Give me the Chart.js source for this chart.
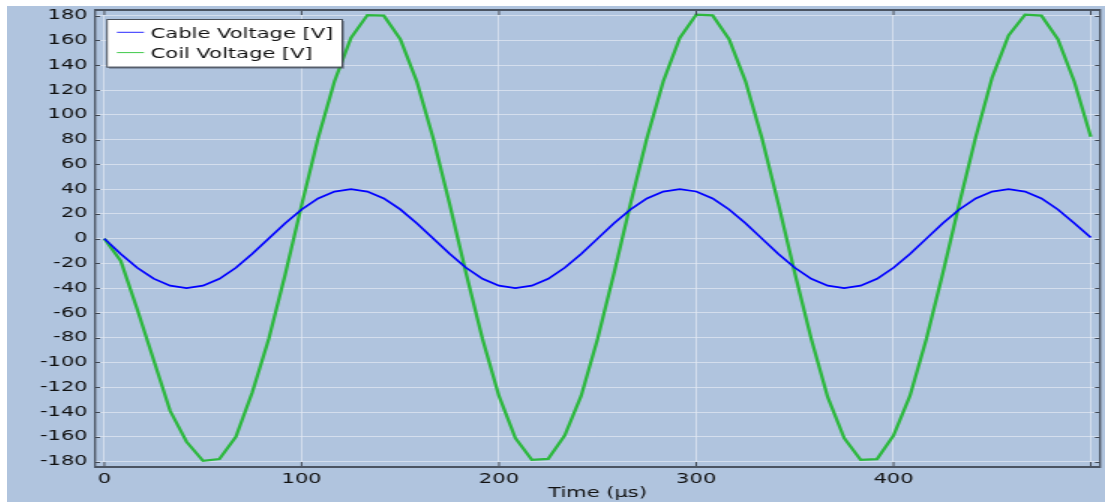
<!DOCTYPE html>
<html>
<head>
<meta charset="utf-8">
<script src="https://cdn.jsdelivr.net/npm/chart.js@4.4.1/dist/chart.umd.min.js"></script>
<style>
  html, body { margin: 0; padding: 0; background: #ffffff; width: 1105px; height: 502px; overflow: hidden; }
  /* the plot is drawn narrow and widened horizontally */
  #wrap { position: absolute; left: 7px; top: 6px; width: 732px; height: 496px;
          transform: scaleX(1.5); transform-origin: 0 0; }
  canvas { display: block; }
</style>
</head>
<body>
<div id="wrap"><canvas id="chart" width="732" height="496" style="width:732px;height:496px"></canvas></div>
<script>
// Sample times in microseconds
const times = [0, 8.33, 16.67, 25, 33.33, 41.67, 50, 58.33, 66.67, 75,
  83.33, 91.67, 100, 108.33, 116.67, 125, 133.33, 141.67, 150, 158.33,
  166.67, 175, 183.33, 191.67, 200, 208.33, 216.67, 225, 233.33, 241.67,
  250, 258.33, 266.67, 275, 283.33, 291.67, 300, 308.33, 316.67, 325,
  333.33, 341.67, 350, 358.33, 366.67, 375, 383.33, 391.67, 400, 408.33,
  416.67, 425, 433.33, 441.67, 450, 458.33, 466.67, 475, 483.33, 491.67, 500];

// Cable voltage [V]
const cableVoltage = [0, -12.4, -23.5, -32.3, -38.0, -40.0, -38.0, -32.4, -23.5, -12.3,
  0.1, 12.4, 23.5, 32.4, 38.0, 40.0, 38.0, 32.4, 23.6, 12.4,
  0.1, -12.3, -23.5, -32.4, -38.0, -40.0, -38.0, -32.4, -23.5, -12.4,
  0, 12.4, 23.5, 32.4, 38.0, 40.0, 38.1, 32.4, 23.5, 12.4,
  0, -12.4, -23.5, -32.4, -38.0, -40.0, -38.0, -32.4, -23.5, -12.4,
  0, 12.4, 23.5, 32.4, 38.0, 40.0, 38.0, 32.4, 23.5, 12.4, 0.9];

// Coil voltage [V]
const coilVoltage = [0, -18, -57, -98, -139, -164, -179.4, -178, -160, -124,
  -81, -29, 27, 81, 127, 162, 180.5, 180, 161, 127,
  81, 28, -28, -81, -127, -161, -178.6, -177.8, -159, -127,
  -81, -28, 28, 81, 127, 162, 180.8, 180.2, 161, 127,
  81, 28, -28, -81, -128, -161, -178.6, -178, -159, -127,
  -81, -28, 28, 82, 130, 164, 180.8, 180, 161, 126.7, 82.3];

const seriesNames = ['Cable Voltage [V]', 'Coil Voltage [V]'];
const xTickValues = [0, 100, 200, 300, 400, 500];
const xTickLabels = ['0', '100', '200', '300', '400', ''];
const yTickValues = [-180, -160, -140, -120, -100, -80, -60, -40, -20, 0,
  20, 40, 60, 80, 100, 120, 140, 160, 180];
const yTickLabels = ['-180', '-160', '-140', '-120', '-100', '-80', '-60', '-40', '-20', '0',
  '20', '40', '60', '80', '100', '120', '140', '160', '180'];
const xTitle = 'Time (µs)';

const FONT = 'DejaVu Sans';
const SX = 1.5; // horizontal widening applied to the canvas

const background = {
  id: 'background',
  beforeDraw(chart) {
    const ctx = chart.ctx;
    ctx.save();
    ctx.fillStyle = '#b0c4de';
    ctx.fillRect(0, 0, chart.width, chart.height);
    ctx.restore();
  }
};

// Boxed legend in the upper-left corner of the plot
const boxLegend = {
  id: 'boxLegend',
  afterDatasetsDraw(chart) {
    const ctx = chart.ctx;
    const bx = 66.7, by = 13, bw = 156.8, bh = 47.7;
    ctx.save();
    ctx.fillStyle = 'rgba(70,80,95,0.55)';
    ctx.fillRect(bx + 2 / SX, by + 2, bw, bh);
    ctx.fillStyle = '#ffffff';
    ctx.fillRect(bx, by, bw, bh);
    ctx.strokeStyle = '#4a4f58';
    ctx.lineWidth = 1;
    ctx.strokeRect(bx, by + 0.5, bw, bh);
    const rows = [32, 52.3];
    const lineCols = ['#2a2aff', '#3fc94a'];
    chart.data.datasets.forEach((ds, i) => {
      const yy = rows[i];
      ctx.strokeStyle = lineCols[i];
      ctx.lineWidth = 1;
      ctx.beginPath();
      ctx.moveTo(73.3, yy - 5.7);
      ctx.lineTo(91.3, yy - 5.7);
      ctx.stroke();
      ctx.fillStyle = '#111111';
      ctx.font = '14px "' + FONT + '"';
      ctx.textBaseline = 'alphabetic';
      ctx.textAlign = 'left';
      ctx.fillText(ds.label, 95.8, yy);
    });
    ctx.restore();
  }
};

// Frame lines and inward tick marks on all four sides
const frame = {
  id: 'frame',
  afterDraw(chart) {
    const {ctx, chartArea: a, scales: {x, y}} = chart;
    ctx.save();
    ctx.strokeStyle = '#3e4652';
    ctx.lineWidth = 1;
    ctx.beginPath();
    y.ticks.forEach(t => {
      const py = Math.round(y.getPixelForValue(t.value)) + 0.5;
      ctx.moveTo(a.left, py); ctx.lineTo(a.left + 5 / SX, py);
      ctx.moveTo(a.right - 5 / SX, py); ctx.lineTo(a.right, py);
    });
    x.ticks.forEach(t => {
      const px = x.getPixelForValue(t.value);
      ctx.moveTo(px, a.bottom); ctx.lineTo(px, a.bottom - 5);
      ctx.moveTo(px, a.top); ctx.lineTo(px, a.top + 5);
    });
    ctx.stroke();
    ctx.strokeStyle = '#4b5462';
    ctx.lineWidth = 2;
    ctx.beginPath();
    ctx.moveTo(a.left, a.bottom); ctx.lineTo(a.right, a.bottom);
    ctx.moveTo(a.left, a.top); ctx.lineTo(a.right, a.top);
    ctx.stroke();
    ctx.lineWidth = 2 / SX;
    ctx.beginPath();
    ctx.moveTo(a.left, a.top - 1); ctx.lineTo(a.left, a.bottom + 1);
    ctx.moveTo(a.right, a.top - 1); ctx.lineTo(a.right, a.bottom + 1);
    ctx.stroke();
    ctx.restore();
  }
};

const gridColor = 'rgba(228,234,243,0.7)';

new Chart(document.getElementById('chart'), {
  type: 'line',
  data: {
    datasets: [
      {
        label: seriesNames[0],
        data: times.map((t, i) => ({x: t, y: cableVoltage[i]})),
        borderColor: '#0000ff',
        borderWidth: 1.7,
        pointRadius: 0,
        tension: 0,
        fill: false
      },
      {
        label: seriesNames[1],
        data: times.map((t, i) => ({x: t, y: coilVoltage[i]})),
        borderColor: '#2db83e',
        borderWidth: 2.3,
        pointRadius: 0,
        tension: 0,
        fill: false
      }
    ]
  },
  options: {
    responsive: false,
    animation: false,
    devicePixelRatio: 1,
    layout: {padding: {left: 0, top: 4, right: 3.3, bottom: 0}},
    plugins: {legend: {display: false}, tooltip: {enabled: false}},
    scales: {
      x: {
        type: 'linear',
        min: -4.71,
        max: 504.7,
        afterBuildTicks(s) { s.ticks = xTickValues.map(v => ({value: v})); },
        afterFit(s) { s.height = 35; s.paddingLeft = 0; s.paddingRight = 0; },
        ticks: {
          autoSkip: false,
          maxRotation: 0,
          padding: 4,
          color: '#111111',
          font: {family: FONT, size: 14},
          callback: (v) => xTickLabels[xTickValues.indexOf(v)]
        },
        grid: {color: gridColor, lineWidth: 1, drawTicks: false},
        border: {display: false},
        title: {
          display: true,
          text: xTitle,
          color: '#111111',
          font: {family: FONT, size: 14},
          padding: {top: 0, bottom: 0}
        }
      },
      y: {
        type: 'linear',
        min: -184.4,
        max: 184.6,
        afterBuildTicks(s) { s.ticks = yTickValues.map(v => ({value: v})); },
        afterFit(s) { s.width = 58.7; s.paddingTop = 0; s.paddingBottom = 0; },
        ticks: {
          autoSkip: false,
          padding: 5,
          color: '#111111',
          font: {family: FONT, size: 14},
          callback: (v) => yTickLabels[yTickValues.indexOf(v)]
        },
        grid: {color: gridColor, lineWidth: 1, drawTicks: false},
        border: {display: false}
      }
    }
  },
  plugins: [background, boxLegend, frame]
});
</script>
</body>
</html>
